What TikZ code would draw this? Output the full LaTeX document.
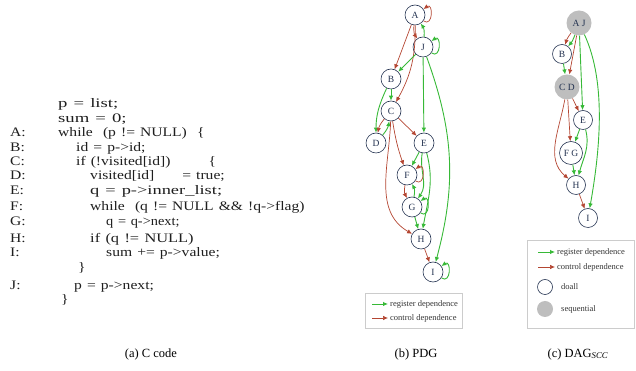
\documentclass[tikz,border=0pt]{standalone}
\usepackage{fontspec}
\setmainfont{Liberation Serif}
\newfontfamily\codefont[FakeStretch=1.2,WordSpace=1.3]{Liberation Serif}
\usetikzlibrary{arrows.meta}
\definecolor{regc}{RGB}{55,185,55}
\definecolor{ctlc}{RGB}{180,70,50}
\definecolor{nodec}{RGB}{35,50,80}
\definecolor{seqc}{RGB}{190,190,190}
\definecolor{codec}{RGB}{30,30,30}
\newcommand{\widen}[2]{\scalebox{#1}[1]{#2}}
\begin{document}
\begin{tikzpicture}[x=1pt,y=1pt,
  vtx/.style={circle,draw=nodec,line width=0.6pt,fill=white,minimum size=20pt,inner sep=0pt,font=\fontsize{9.5}{10}\selectfont,text=nodec},
  dvtx/.style={vtx,minimum size=19pt},
  seqvtx/.style={circle,fill=seqc,minimum size=25pt,inner sep=0pt,font=\fontsize{9.5}{10}\selectfont,text=nodec},
  reg/.style={draw=regc,line width=0.9pt,-{Latex[length=5pt,width=4.5pt]}},
  ctl/.style={draw=ctlc,line width=0.7pt,-{Latex[length=5pt,width=4.5pt]}},
  code/.style={anchor=base west,inner sep=0pt,font=\codefont\fontsize{13}{14}\selectfont,text=codec},
  captxt/.style={font=\fontsize{12.5}{14}\selectfont},
  leg/.style={anchor=west,inner sep=0pt,font=\fontsize{8.5}{10}\selectfont,text=black!80},
  legbox/.style={draw=black!20,line width=0.4pt}
]
\useasboundingbox (0,0) rectangle (636,371);

% ---------- code ----------
\node[code] (c1) at (58,263) {\widen{1.2}{p = list;}};
\node[code] (c2) at (58,248) {\widen{1.2}{sum = 0;}};
\node[code] (lA) at (10,234) {A:};
\node[code] (cA) at (58,234) {while\ \ (p != NULL)\ \ \{};
\node[code] (lB) at (10,219) {B:};
\node[code] (cB) at (76,219) {id = p->id;};
\node[code] (lC) at (10,205) {C:};
\node[code] (cC) at (76,205) {if (!visited[id])\hspace{38pt}\{};
\node[code] (lD) at (10,191) {D:};
\node[code] (cD) at (90,191) {visited[id]\hspace{28pt}= true;};
\node[code] (lE) at (10,176) {E:};
\node[code] (cE) at (90,176) {\widen{1.18}{q = p->inner\_list;}};
\node[code] (lF) at (10,160) {F:};
\node[code] (cF) at (90,160) {while\ \ (q != NULL\ \&\&\ !q->flag)};
\node[code] (lG) at (10,145) {G:};
\node[code] (cG) at (106,145) {\widen{0.92}{q = q->next;}};
\node[code] (lH) at (10,128) {H:};
\node[code] (cH) at (90,128) {\widen{1.05}{if (q != NULL)}};
\node[code] (lI) at (10,114) {I:};
\node[code] (cI) at (106,114) {sum += p->value;};
\node[code] (cB1) at (78,99) {\}};
\node[code] (lJ) at (10,81) {J:};
\node[code] (cJ) at (74,81) {p = p->next;};
\node[code] (cB2) at (61,67) {\}};

% ---------- PDG ----------
\node[vtx] (A) at (415,356) {A};
\node[vtx] (J) at (423,324) {J};
\node[vtx] (B) at (391,292) {B};
\node[vtx] (C) at (391,260) {C};
\node[vtx] (D) at (376,228) {D};
\node[vtx] (E) at (424,228) {E};
\node[vtx] (F) at (407,196) {F};
\node[vtx] (G) at (412,164) {G};
\node[vtx] (H) at (421,132) {H};
\node[vtx] (I) at (433,99) {I};

\draw[ctl] (A.-35) .. controls +(-35:12) and +(35:12) .. (A.35);
\draw[ctl] (A) to[bend right=20] (J);
\draw[reg] (J) to[bend right=20] (A);
\draw[ctl] (A) -- (B);
\draw[ctl] (A) to[bend left=15] (C);
\draw[reg] (J.-35) .. controls +(-35:12) and +(35:12) .. (J.35);
\draw[reg] (J) -- (B);
\draw[reg] (J) -- (E);
\draw[reg] (J) to[out=-70,in=75] (I);
\draw[reg] (B) -- (C);
\draw[reg] (B) to[out=-115,in=90] (D);
\draw[ctl] (C) to[bend right=15] (D);
\draw[reg] (D) to[bend right=15] (C);
\draw[ctl] (C) -- (E);
\draw[ctl] (C) to[bend right=5] (F);
\draw[ctl] (C) to[out=-92,in=150] (H);
\draw[reg] (E) -- (F);
\draw[reg] (E) to[out=-100,in=55] (G);
\draw[reg] (E) to[out=-75,in=80] (H);
\draw[ctl] (F.-35) .. controls +(-35:12) and +(35:12) .. (F.35);
\draw[ctl] (F) to[bend right=20] (G);
\draw[reg] (G) to[bend right=20] (F);
\draw[reg] (G.-35) .. controls +(-35:12) and +(35:12) .. (G.35);
\draw[reg] (G) -- (H);
\draw[ctl] (H) -- (I);
\draw[reg] (I.-35) .. controls +(-35:12) and +(35:12) .. (I.35);

% PDG legend
\draw[legbox] (365,43) rectangle (462,78);
\coordinate (pg1) at (372,67); \coordinate (pg2) at (388,67);
\coordinate (pr1) at (372,53); \coordinate (pr2) at (388,53);
\draw[reg] (pg1) -- (pg2);
\draw[ctl] (pr1) -- (pr2);
\node[leg] (pgt) at (390,67) {register dependence};
\node[leg] (prt) at (390,53) {control dependence};

% ---------- DAG_SCC ----------
\node[seqvtx] (AJ) at (579,348) {A J};
\node[dvtx] (dB) at (562,317) {B};
\node[seqvtx] (CD) at (567,284) {C D};
\node[dvtx] (dE) at (583,251) {E};
\node[dvtx,minimum size=23pt] (FG) at (571,218) {F G};
\node[dvtx] (dH) at (576,186) {H};
\node[dvtx] (dI) at (588,153) {I};

\draw[ctl] (AJ) to[bend right=10] (dB);
\draw[reg] (AJ) to[bend left=10] (dB);
\draw[ctl] (AJ) -- (CD);
\draw[reg] (AJ) -- (dE);
\draw[reg] (AJ) to[out=-65,in=80,looseness=0.8] (dI);
\draw[reg] (dB) -- (CD);
\draw[ctl] (CD) -- (dE);
\draw[ctl] (CD) -- (FG);
\draw[ctl] (CD) to[out=-100,in=140] (dH);
\draw[reg] (dE) -- (FG);
\draw[reg] (dE) to[out=-75,in=75] (dH);
\draw[reg] (FG) -- (dH);
\draw[ctl] (dH) -- (dI);

% DAG legend
\draw[legbox] (527,43) rectangle (634,131);
\coordinate (dg1) at (538,119); \coordinate (dg2) at (555,119);
\coordinate (dr1) at (538,104); \coordinate (dr2) at (555,104);
\draw[reg] (dg1) -- (dg2);
\draw[ctl] (dr1) -- (dr2);
\node[leg] (dgt) at (557,119) {register dependence};
\node[leg] (drt) at (557,104) {control dependence};
\node[circle,draw=nodec,line width=0.6pt,minimum size=15pt,inner sep=0pt] (ldoall) at (545,84) {};
\node[leg] (tdoall) at (561,84) {doall};
\node[circle,fill=seqc,minimum size=16pt,inner sep=0pt] (lseq) at (545,62) {};
\node[leg] (tseq) at (561,62) {sequential};

% ---------- captions ----------
\node[captxt] (capa) at (151,17) {(a) C code};
\node[captxt] (capb) at (416,17) {(b) PDG};
\node[captxt] (capc) at (578,17) {(c) DAG\textsubscript{\textit{SCC}}};
\end{tikzpicture}
\end{document}
